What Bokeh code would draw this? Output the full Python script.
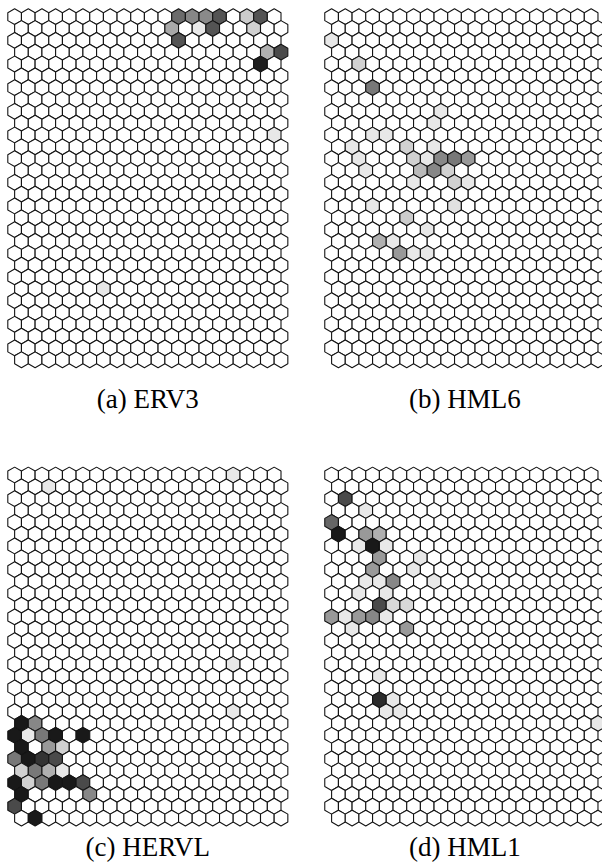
import numpy as np
from bokeh.plotting import figure
from bokeh.models import Range1d, ColumnDataSource
from bokeh.layouts import column, row
from bokeh.palettes import Greys256
from bokeh.transform import linear_cmap
from bokeh.core.properties import value
from bokeh.embed import file_html
from bokeh.resources import INLINE

# SOM grid size (hexagonal, pointy-top, odd rows shifted right)
N_COLS = 20
N_ROWS = 30

captions = ["(a) ERV3", "(b) HML6", "(c) HERVL", "(d) HML1"]

# shaded cells: row index (top = 0), column index, intensity (0 = white, 1 = black)
erv3_rows = [0, 0, 0, 0, 0, 0, 1, 1, 1, 1, 2, 3, 3, 4, 10, 23]
erv3_cols = [12, 13, 14, 15, 17, 18, 11, 13, 14, 17, 12, 18, 19, 18, 19, 6]
erv3_vals = [0.58, 0.47, 0.46, 0.67, 0.2, 0.67, 0.34, 0.09, 0.67, 0.18, 0.67, 0.31, 0.71, 0.88, 0.09, 0.09]

hml6_rows = [2, 4, 6, 8, 9, 10, 10, 11, 11, 11, 12, 12, 12, 12, 12, 12, 13, 13, 13, 13,
             14, 14, 14, 16, 16, 17, 18, 19, 19, 20, 20, 20]
hml6_cols = [0, 2, 3, 8, 7, 3, 4, 1, 5, 7, 2, 6, 7, 8, 9, 10, 2, 6, 7, 8,
             6, 9, 10, 3, 9, 5, 7, 3, 4, 5, 6, 7]
hml6_vals = [0.09, 0.18, 0.53, 0.09, 0.09, 0.09, 0.09, 0.09, 0.18, 0.09, 0.09, 0.18, 0.09, 0.47, 0.53, 0.4,
             0.09, 0.27, 0.47, 0.18, 0.09, 0.18, 0.09, 0.09, 0.12, 0.2, 0.09, 0.31, 0.09, 0.4, 0.09, 0.09]

hervl_rows = [0, 1, 16, 20, 21, 21, 22, 22, 22, 22, 22, 23, 23, 23, 24, 24, 24, 24,
              25, 25, 25, 25, 26, 26, 26, 26, 26, 26, 27, 27, 28, 29]
hervl_cols = [16, 2, 16, 16, 0, 1, 0, 1, 2, 3, 5, 0, 2, 3, 0, 1, 2, 3,
              0, 1, 2, 3, 0, 1, 2, 3, 4, 5, 0, 5, 0, 1]
hervl_vals = [0.09, 0.09, 0.09, 0.09, 0.9, 0.47, 0.9, 0.09, 0.53, 0.9, 0.9, 0.9, 0.4, 0.18, 0.53, 0.9, 0.8, 0.71,
              0.18, 0.53, 0.31, 0.09, 0.9, 0.18, 0.53, 0.9, 0.9, 0.71, 0.9, 0.47, 0.71, 0.9]

hml1_rows = [2, 3, 4, 5, 5, 5, 6, 6, 6, 7, 7, 8, 8, 9, 9, 9, 9, 10, 10, 11, 11, 11,
             12, 12, 12, 12, 12, 13, 13, 17, 19, 19, 20, 20, 21]
hml1_cols = [1, 2, 0, 0, 2, 3, 2, 3, 4, 3, 6, 3, 6, 2, 3, 4, 7, 2, 4, 3, 4, 5,
             0, 1, 2, 3, 4, 1, 5, 3, 3, 4, 4, 5, 19]
hml1_vals = [0.71, 0.09, 0.6, 0.9, 0.4, 0.31, 0.09, 0.9, 0.09, 0.4, 0.09, 0.4, 0.09, 0.09, 0.09, 0.47, 0.09,
             0.09, 0.09, 0.71, 0.15, 0.15, 0.4, 0.09, 0.4, 0.47, 0.09, 0.09, 0.4, 0.09, 0.83, 0.09, 0.09, 0.09, 0.09]

PX_PER_UNIT = 13.66          # one hexagon width in pixels
HEX_SIZE = 1 / np.sqrt(3)    # circumradius for unit width
PALETTE = list(reversed(Greys256))
FONT = "Liberation Serif"


def panel(rows, cols, vals, caption, fig_w, fig_h, x0_px, y0_px, cap_px):
    full = np.zeros((N_ROWS, N_COLS))
    for r_, c_, v_ in zip(rows, cols, vals):
        full[r_, c_] = v_
    rr, cc = np.meshgrid(np.arange(N_ROWS), np.arange(N_COLS), indexing="ij")
    rr = rr.ravel()
    cc = cc.ravel()
    q = cc - (rr - (rr & 1)) // 2
    src = ColumnDataSource(dict(q=q, r=rr, v=full.ravel()))

    x_start = -x0_px / PX_PER_UNIT
    y_end = y0_px / PX_PER_UNIT
    p = figure(width=fig_w, height=fig_h,
               x_range=Range1d(x_start, x_start + fig_w / PX_PER_UNIT),
               y_range=Range1d(y_end - fig_h / PX_PER_UNIT, y_end),
               output_backend="svg", toolbar_location=None, min_border=0)
    p.axis.visible = False
    p.grid.visible = False
    p.outline_line_color = None
    p.background_fill_color = "white"
    p.hex_tile(q="q", r="r", size=HEX_SIZE, orientation="pointytop", source=src,
               fill_color=linear_cmap("v", PALETTE, 0, 1),
               line_color="#141414", line_width=1.1)
    cx = (N_COLS - 0.5) / 2
    cy = y_end - cap_px / PX_PER_UNIT
    p.text(x=[cx], y=[cy], text=[caption], text_align="center", text_baseline="alphabetic",
           text_font=value(FONT), text_font_size="27px", text_color="black")
    return p


pa = panel(erv3_rows, erv3_cols, erv3_vals, captions[0], 305, 430, 14.13, 16.2, 398)
pb = panel(hml6_rows, hml6_cols, hml6_vals, captions[1], 297, 430, 26.1, 16.2, 398)
pc = panel(hervl_rows, hervl_cols, hervl_vals, captions[2], 305, 434, 14.13, 44.5, 416)
pd = panel(hml1_rows, hml1_cols, hml1_vals, captions[3], 297, 434, 26.1, 44.5, 416)

layout = column(row(pa, pb, spacing=0), row(pc, pd, spacing=0), spacing=0)

open("out.html", "w").write(file_html(layout, INLINE))
